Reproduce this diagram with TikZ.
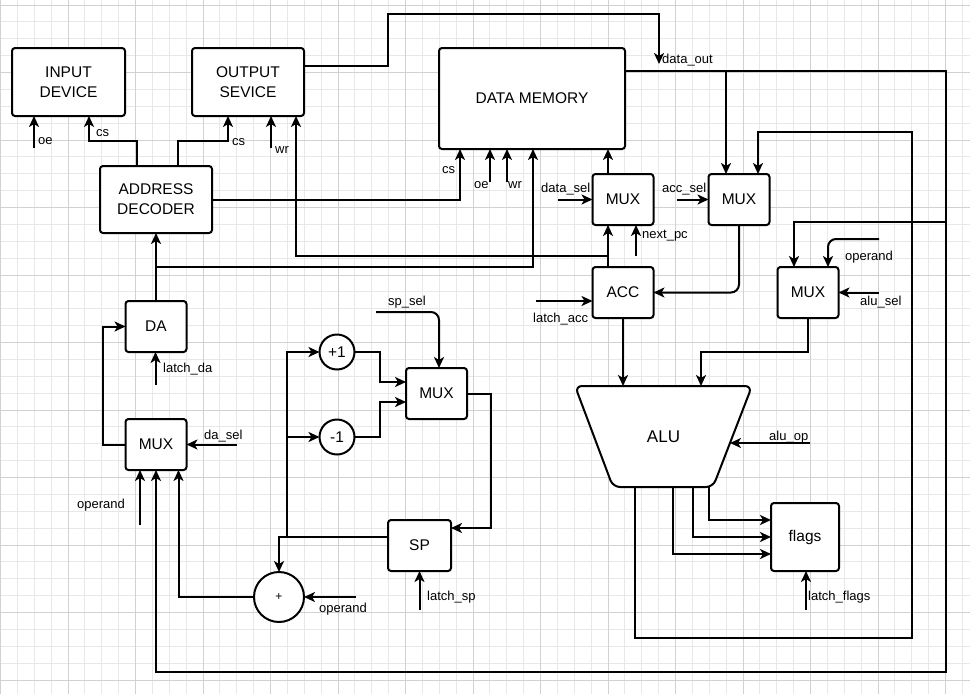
\documentclass[tikz,border=0pt]{standalone}
\usepackage{fontspec}
\setmainfont{Liberation Sans}
\usetikzlibrary{positioning,arrows.meta}

\begin{document}
\begin{tikzpicture}[
  x=1pt, y=-1pt,
  font=\fontsize{15.5}{20}\selectfont,
  b/.style={draw,line width=2pt,rounded corners=3pt,align=center,fill=white,inner sep=0pt,outer sep=0pt},
  mux/.style={b,minimum width=61pt,minimum height=51pt},
  ring/.style={draw,line width=2pt,circle,fill=white,inner sep=0pt,outer sep=0pt},
  sig/.style={font=\fontsize{13}{15}\selectfont,inner sep=0pt,anchor=base west},
  a/.style={-{Stealth[length=11pt,width=10pt,inset=3pt]},line width=2pt},
  minor/.style={black!9,line width=1pt},
  major/.style={black!18,line width=1pt},
]
  % background grid
  \useasboundingbox[fill=white] (0,0) rectangle (970,694);
  \foreach \i in {0,...,57} \draw[minor] ({0.5+16.875*\i},0) -- ++(0,694);
  \foreach \i in {0,...,41} \draw[minor] (0,{5+16.875*\i}) -- ++(970,0);
  \foreach \i in {0,...,14} \draw[major] ({0.5+67.5*\i},0) -- ++(0,694);
  \foreach \i in {0,...,10} \draw[major] (0,{5+67.5*\i}) -- ++(970,0);

  % blocks
  \node[b,minimum width=113pt,minimum height=68pt] (inp) at (68.5,82) {INPUT\\DEVICE};
  \node[b,minimum width=112pt,minimum height=68pt,right=67pt of inp] (outp) {OUTPUT\\SEVICE};
  \node[b,minimum width=112pt,minimum height=67pt] (dec) at (156,199.5) {ADDRESS\\DECODER};
  \node[b,minimum width=186pt,minimum height=101pt] (mem) at (532,98.5) {DATA MEMORY};
  \node[mux] (mux1) at (623,199.5) {MUX};
  \node[mux,right=55pt of mux1] (mux2) {MUX};
  \node[mux,below=42pt of mux1] (acc) {ACC};
  \node[mux] (mux3) at (808,292.5) {MUX};
  % alu: trapezoid drawn round an empty frame node
  \node[minimum width=177pt,minimum height=101pt,inner sep=0pt,outer sep=0pt] (alu) at (663.5,436.5) {};
  \draw[line width=2pt,rounded corners=7pt,fill=white] (alu.north west) -- (alu.north east)
    -- ([xshift=-39pt]alu.south east) -- ([xshift=38pt]alu.south west) -- cycle;
  \node[font=\fontsize{17}{20}\selectfont] (alut) at (alu) {ALU};
  \node[b,minimum width=68pt,minimum height=68pt] (flags) at (805,537) {flags};
  \node[mux,below=68pt of dec] (da) {DA};
  \node[mux,below=67pt of da] (muxda) {MUX};
  \node[mux] (muxsp) at (436.5,393.5) {MUX};
  \node[b,minimum width=63pt,minimum height=51pt] (sp) at (419.5,545.5) {SP};
  \node[ring,minimum size=35pt] (inc) at (337,352) {+1};
  \node[ring,minimum size=35pt,below=50pt of inc] (decr) {-1};
  \node[ring,minimum size=50pt,font=\fontsize{12}{14}\selectfont] (add) at (279,597) {+};

  % free ends of control inputs
  \coordinate (oeI) at (34,148);
  \coordinate (wrO) at (271,148);
  \coordinate (oeM) at (490,182);
  \coordinate (wrM) at (507,182);
  \coordinate (dsel) at (558,199.5);
  \coordinate (asel) at (677,199.5);
  \coordinate (npc) at (636,256);
  \coordinate (lacc) at (536,301);
  \coordinate (opm) at (879,239);
  \coordinate (alsel) at (879,292.5);
  \coordinate (aluop) at (810,443);
  \coordinate (aluR) at ([xshift=-22pt,yshift=-6.5pt]alu.east);
  \coordinate (lflg) at (806,610);
  \coordinate (lda) at (155.5,385);
  \coordinate (dsl) at (237,444.5);
  \coordinate (opda) at (140,525);
  \coordinate (opad) at (356,597);
  \coordinate (ssel) at (376,312);
  \coordinate (lsp) at (419.5,610);
  \coordinate (dout) at ([yshift=27.5pt]mem.east);
  \coordinate (m1t) at ([xshift=-15pt]mux1.north);
  \coordinate (m2a) at ([xshift=-13pt]mux2.north);
  \coordinate (m3a) at ([xshift=-14pt]mux3.north);
  \coordinate (spj) at (287,537);

  % decoder
  \draw[a] (oeI) -- (oeI |- inp.south);
  \draw[a] ([xshift=-19pt]dec.north) |- ([xshift=20.5pt,yshift=-25pt]inp.south) -- ([xshift=20.5pt]inp.south);
  \draw[a] ([xshift=22pt]dec.north) |- ([xshift=-20pt,yshift=-25pt]outp.south) -- ([xshift=-20pt]outp.south);
  \draw[a] (wrO) -- (wrO |- outp.south);
  \draw[a] (dec.east) -| ([xshift=-72pt]mem.south);
  \draw[a] (oeM) -- (oeM |- mem.south);
  \draw[a] (wrM) -- (wrM |- mem.south);

  % data out bus
  \draw[a] ([yshift=16pt]outp.east) -| (388,14) -| (659,64);
  \draw[a] (dout) -| (946,672) -| (muxda.south);
  \draw[a] (m2a |- dout) -- (m2a);
  \draw[a] (946,222) -| (m3a);

  % accumulator path
  \draw[a] (m1t) -- (m1t |- mem.south);
  \draw[a] ([xshift=-15pt]acc.north) -- ([xshift=-15pt]mux1.south);
  \draw[a] ([xshift=-15pt,yshift=11pt]acc.north) -| ([xshift=48pt]outp.south);
  \draw[a] (dsel) -- (mux1.west);
  \draw[a] (asel) -- (mux2.west);
  \draw[a] (npc) -- (npc |- mux1.south);
  \draw[a,rounded corners=8pt] (mux2.south) |- (acc.east);
  \draw[a] (lacc) -- (lacc -| acc.west);

  % alu
  \draw[a] (acc.south) -- ([xshift=-40.5pt]alu.north);
  \draw[a] (mux3.south) -- ++(0,34) -| ([xshift=37.5pt]alu.north);
  \draw[a,rounded corners=8pt] (opm) -| ([xshift=20pt]mux3.north);
  \draw[a] (alsel) -- (mux3.east);
  \draw[a] (aluop) -- (aluR);
  \draw[a] ([xshift=-28.5pt]alu.south) -- ++(0,151) -| (912,132) -| ([xshift=19pt]mux2.north);
  \draw[a] ([xshift=45.5pt]alu.south) |- ([yshift=17pt]flags.west);
  \draw[a] ([xshift=29pt]alu.south) |- (flags.west);
  \draw[a] ([xshift=9pt]alu.south) |- ([yshift=-17pt]flags.west);
  \draw[a] (lflg) -- (lflg |- flags.south);

  % data address
  \draw[a] (da.north) -- (dec.south);
  \draw[a] ([yshift=34pt]da.north) -| ([xshift=1pt]mem.south);
  \draw[a] (lda) -- (lda |- da.south);
  \draw[a] (muxda.west) -- ++(-23,0) |- (da.west);
  \draw[a] (dsl) -- (muxda.east);
  \draw[a] (opda) -- (opda |- muxda.south);
  \draw[a] (add.west) -| ([xshift=22.5pt]muxda.south);
  \draw[a] (opad) -- (add.east);

  % stack pointer
  \draw[a] ([yshift=8.5pt]sp.west) -| (add.north);
  \draw[a] (spj) |- (inc.west);
  \draw[a] (spj |- decr.west) -- (decr.west);
  \draw[a] (inc.east) -- ++(25.5,0) |- ([yshift=11.5pt]muxsp.west);
  \draw[a] (decr.east) -- ++(25.5,0) |- ([yshift=-8.5pt]muxsp.west);
  \draw[a,rounded corners=8pt] (ssel) -| ([xshift=2.5pt]muxsp.north);
  \draw[a] (muxsp.east) -- ++(23.5,0) |- ([yshift=17.5pt]sp.east);
  \draw[a] (lsp) -- (lsp |- sp.south);

  % signal names
  \node[sig] (t-oe1) at (38,144) {oe};
  \node[sig] (t-cs1) at (96,136) {cs};
  \node[sig] (t-cs2) at (232,145) {cs};
  \node[sig] (t-wr1) at (275,153) {wr};
  \node[sig] (t-dout) at (662,63) {data\_out};
  \node[sig] (t-cs3) at (442,173) {cs};
  \node[sig] (t-oe2) at (474,188) {oe};
  \node[sig] (t-wr2) at (508,188) {wr};
  \node[sig] (t-dsel) at (541,192) {data\_sel};
  \node[sig] (t-asel) at (662,192) {acc\_sel};
  \node[sig] (t-npc) at (642,238) {next\_pc};
  \node[sig] (t-lacc) at (533,322) {latch\_acc};
  \node[sig] (t-op1) at (845,260) {operand};
  \node[sig] (t-alsel) at (860,305) {alu\_sel};
  \node[sig] (t-aluop) at (769,440) {alu\_op};
  \node[sig] (t-lflg) at (808,600) {latch\_flags};
  \node[sig] (t-lda) at (163,372) {latch\_da};
  \node[sig] (t-dsl) at (204,439) {da\_sel};
  \node[sig] (t-op2) at (77,508) {operand};
  \node[sig] (t-op3) at (319,612) {operand};
  \node[sig] (t-lsp) at (427,600) {latch\_sp};
  \node[sig] (t-ssel) at (388,305) {sp\_sel};
\end{tikzpicture}
\end{document}
